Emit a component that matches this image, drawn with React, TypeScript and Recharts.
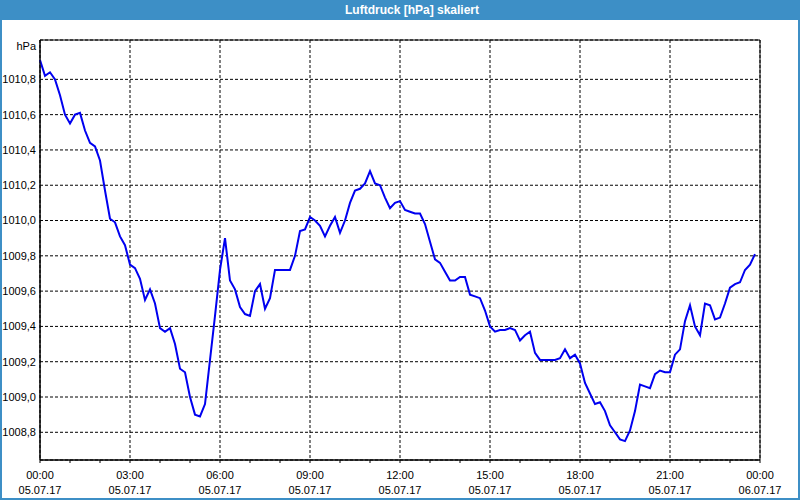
import { LineChart, Line, XAxis, YAxis, CartesianGrid, ReferenceArea } from 'recharts'

const FONT = '"Liberation Sans", Arial, sans-serif'

// Luftdruck in hPa, one reading every 10 minutes from 00:00 to 23:50
const pressure = [
  1010.91, 1010.82, 1010.84, 1010.8, 1010.71, 1010.6, 1010.55, 1010.6, 1010.61, 1010.51, 1010.44, 1010.42,
  1010.34, 1010.17, 1010.01, 1009.99, 1009.91, 1009.86, 1009.75, 1009.73, 1009.67, 1009.55, 1009.61, 1009.53,
  1009.39, 1009.37, 1009.39, 1009.3, 1009.16, 1009.14, 1009.0, 1008.9, 1008.89, 1008.96, 1009.21, 1009.46,
  1009.72, 1009.9, 1009.66, 1009.61, 1009.51, 1009.47, 1009.46, 1009.6, 1009.64, 1009.5, 1009.56, 1009.72,
  1009.72, 1009.72, 1009.72, 1009.8, 1009.94, 1009.95, 1010.02, 1010.0, 1009.97, 1009.91, 1009.97, 1010.02,
  1009.93, 1010.0, 1010.1, 1010.17, 1010.18, 1010.21, 1010.28, 1010.21, 1010.2, 1010.13, 1010.07, 1010.1,
  1010.11, 1010.06, 1010.05, 1010.04, 1010.04, 1009.98, 1009.88, 1009.78, 1009.76, 1009.71, 1009.66, 1009.66,
  1009.68, 1009.68, 1009.58, 1009.57, 1009.56, 1009.49, 1009.4, 1009.37, 1009.38, 1009.38, 1009.39, 1009.38,
  1009.32, 1009.35, 1009.37, 1009.25, 1009.21, 1009.21, 1009.21, 1009.21, 1009.22, 1009.27, 1009.22, 1009.24,
  1009.19, 1009.08, 1009.02, 1008.96, 1008.97, 1008.92, 1008.84, 1008.8, 1008.76, 1008.75, 1008.81, 1008.92,
  1009.07, 1009.06, 1009.05, 1009.13, 1009.15, 1009.14, 1009.14, 1009.24, 1009.27, 1009.43, 1009.52, 1009.4,
  1009.35, 1009.53, 1009.52, 1009.44, 1009.45, 1009.53, 1009.62, 1009.64, 1009.65, 1009.72, 1009.75, 1009.81,
]

const yTicks = [1008.8, 1009.0, 1009.2, 1009.4, 1009.6, 1009.8, 1010.0, 1010.2, 1010.4, 1010.6, 1010.8]
const yDomain = [1008.643, 1011.023]

const majorHours = [0, 3, 6, 9, 12, 15, 18, 21, 24]
const timeLabels = ['00:00', '03:00', '06:00', '09:00', '12:00', '15:00', '18:00', '21:00', '00:00']
const dateLabels = ['05.07.17', '05.07.17', '05.07.17', '05.07.17', '05.07.17', '05.07.17', '05.07.17', '05.07.17', '06.07.17']
const hourTicks = Array.from({ length: 25 }, (_, i) => i)

const data = pressure.map((p, i) => ({ hour: i / 6, p }))

function XTick({ x, y, payload }: any) {
  const idx = majorHours.indexOf(payload.value)
  if (idx < 0) return <g />
  return (
    <text x={x} y={y} textAnchor="middle" fontSize={11} fontFamily={FONT} fill="#000">
      <tspan x={x} dy={16}>{timeLabels[idx]}</tspan>
      <tspan x={x} dy={15}>{dateLabels[idx]}</tspan>
    </text>
  )
}

function UnitLabel({ viewBox }: any) {
  return (
    <text x={viewBox.x + viewBox.width - 4} y={viewBox.y + 10} textAnchor="end" fontSize={11} fontFamily={FONT} fill="#000">
      hPa
    </text>
  )
}

export default function App() {
  return (
    <div
      style={{
        position: 'relative',
        width: 800,
        height: 500,
        background: '#fff',
        boxSizing: 'border-box',
        borderLeft: '2px solid #3d8fc6',
        borderRight: '2px solid #3d8fc6',
        borderBottom: '2px solid #3d8fc6',
      }}
    >
      <style>{'body{margin:0}'}</style>
      <div
        style={{
          position: 'absolute',
          left: -2,
          top: 0,
          width: 800,
          height: 20,
          background: '#3d8fc6',
          color: '#fff',
          fontFamily: FONT,
          fontWeight: 'bold',
          fontSize: 12,
          lineHeight: '20px',
        }}
      >
        <span style={{ position: 'absolute', left: 345 }}>Luftdruck [hPa] skaliert</span>
      </div>
      <LineChart
        width={800}
        height={500}
        data={data}
        margin={{ top: 40, right: 40, left: 0, bottom: 0 }}
        style={{ position: 'absolute', left: -2, top: 0 }}
      >
        {/* grid follows the 3-hour axis only */}
        <CartesianGrid stroke="#000" strokeDasharray="3 2" xAxisId="grid" />
        <ReferenceArea
          x1={0}
          x2={24}
          y1={yDomain[0]}
          y2={yDomain[1]}
          stroke="#000"
          fill="none"
          fillOpacity={0}
        />
        <XAxis
          dataKey="hour"
          type="number"
          domain={[0, 24]}
          ticks={hourTicks}
          interval={0}
          height={40}
          axisLine={{ stroke: '#000' }}
          tickLine={{ stroke: '#000' }}
          tickSize={3}
          tickMargin={0}
          tick={<XTick />}
        />
        <XAxis xAxisId="grid" dataKey="hour" type="number" domain={[0, 24]} ticks={majorHours} interval={0} hide />
        <YAxis
          type="number"
          domain={yDomain}
          ticks={yTicks}
          interval={0}
          width={40}
          axisLine={{ stroke: '#000' }}
          tickLine={false}
          tickSize={4}
          tickMargin={0}
          allowDataOverflow
          tick={{ fill: '#000', fontSize: 11, fontFamily: FONT }}
          tickFormatter={(v: number) => v.toFixed(1).replace('.', ',')}
          label={<UnitLabel />}
        />
        <Line
          type="linear"
          dataKey="p"
          stroke="#0000f0"
          strokeWidth={2}
          dot={false}
          isAnimationActive={false}
        />
      </LineChart>
    </div>
  )
}
